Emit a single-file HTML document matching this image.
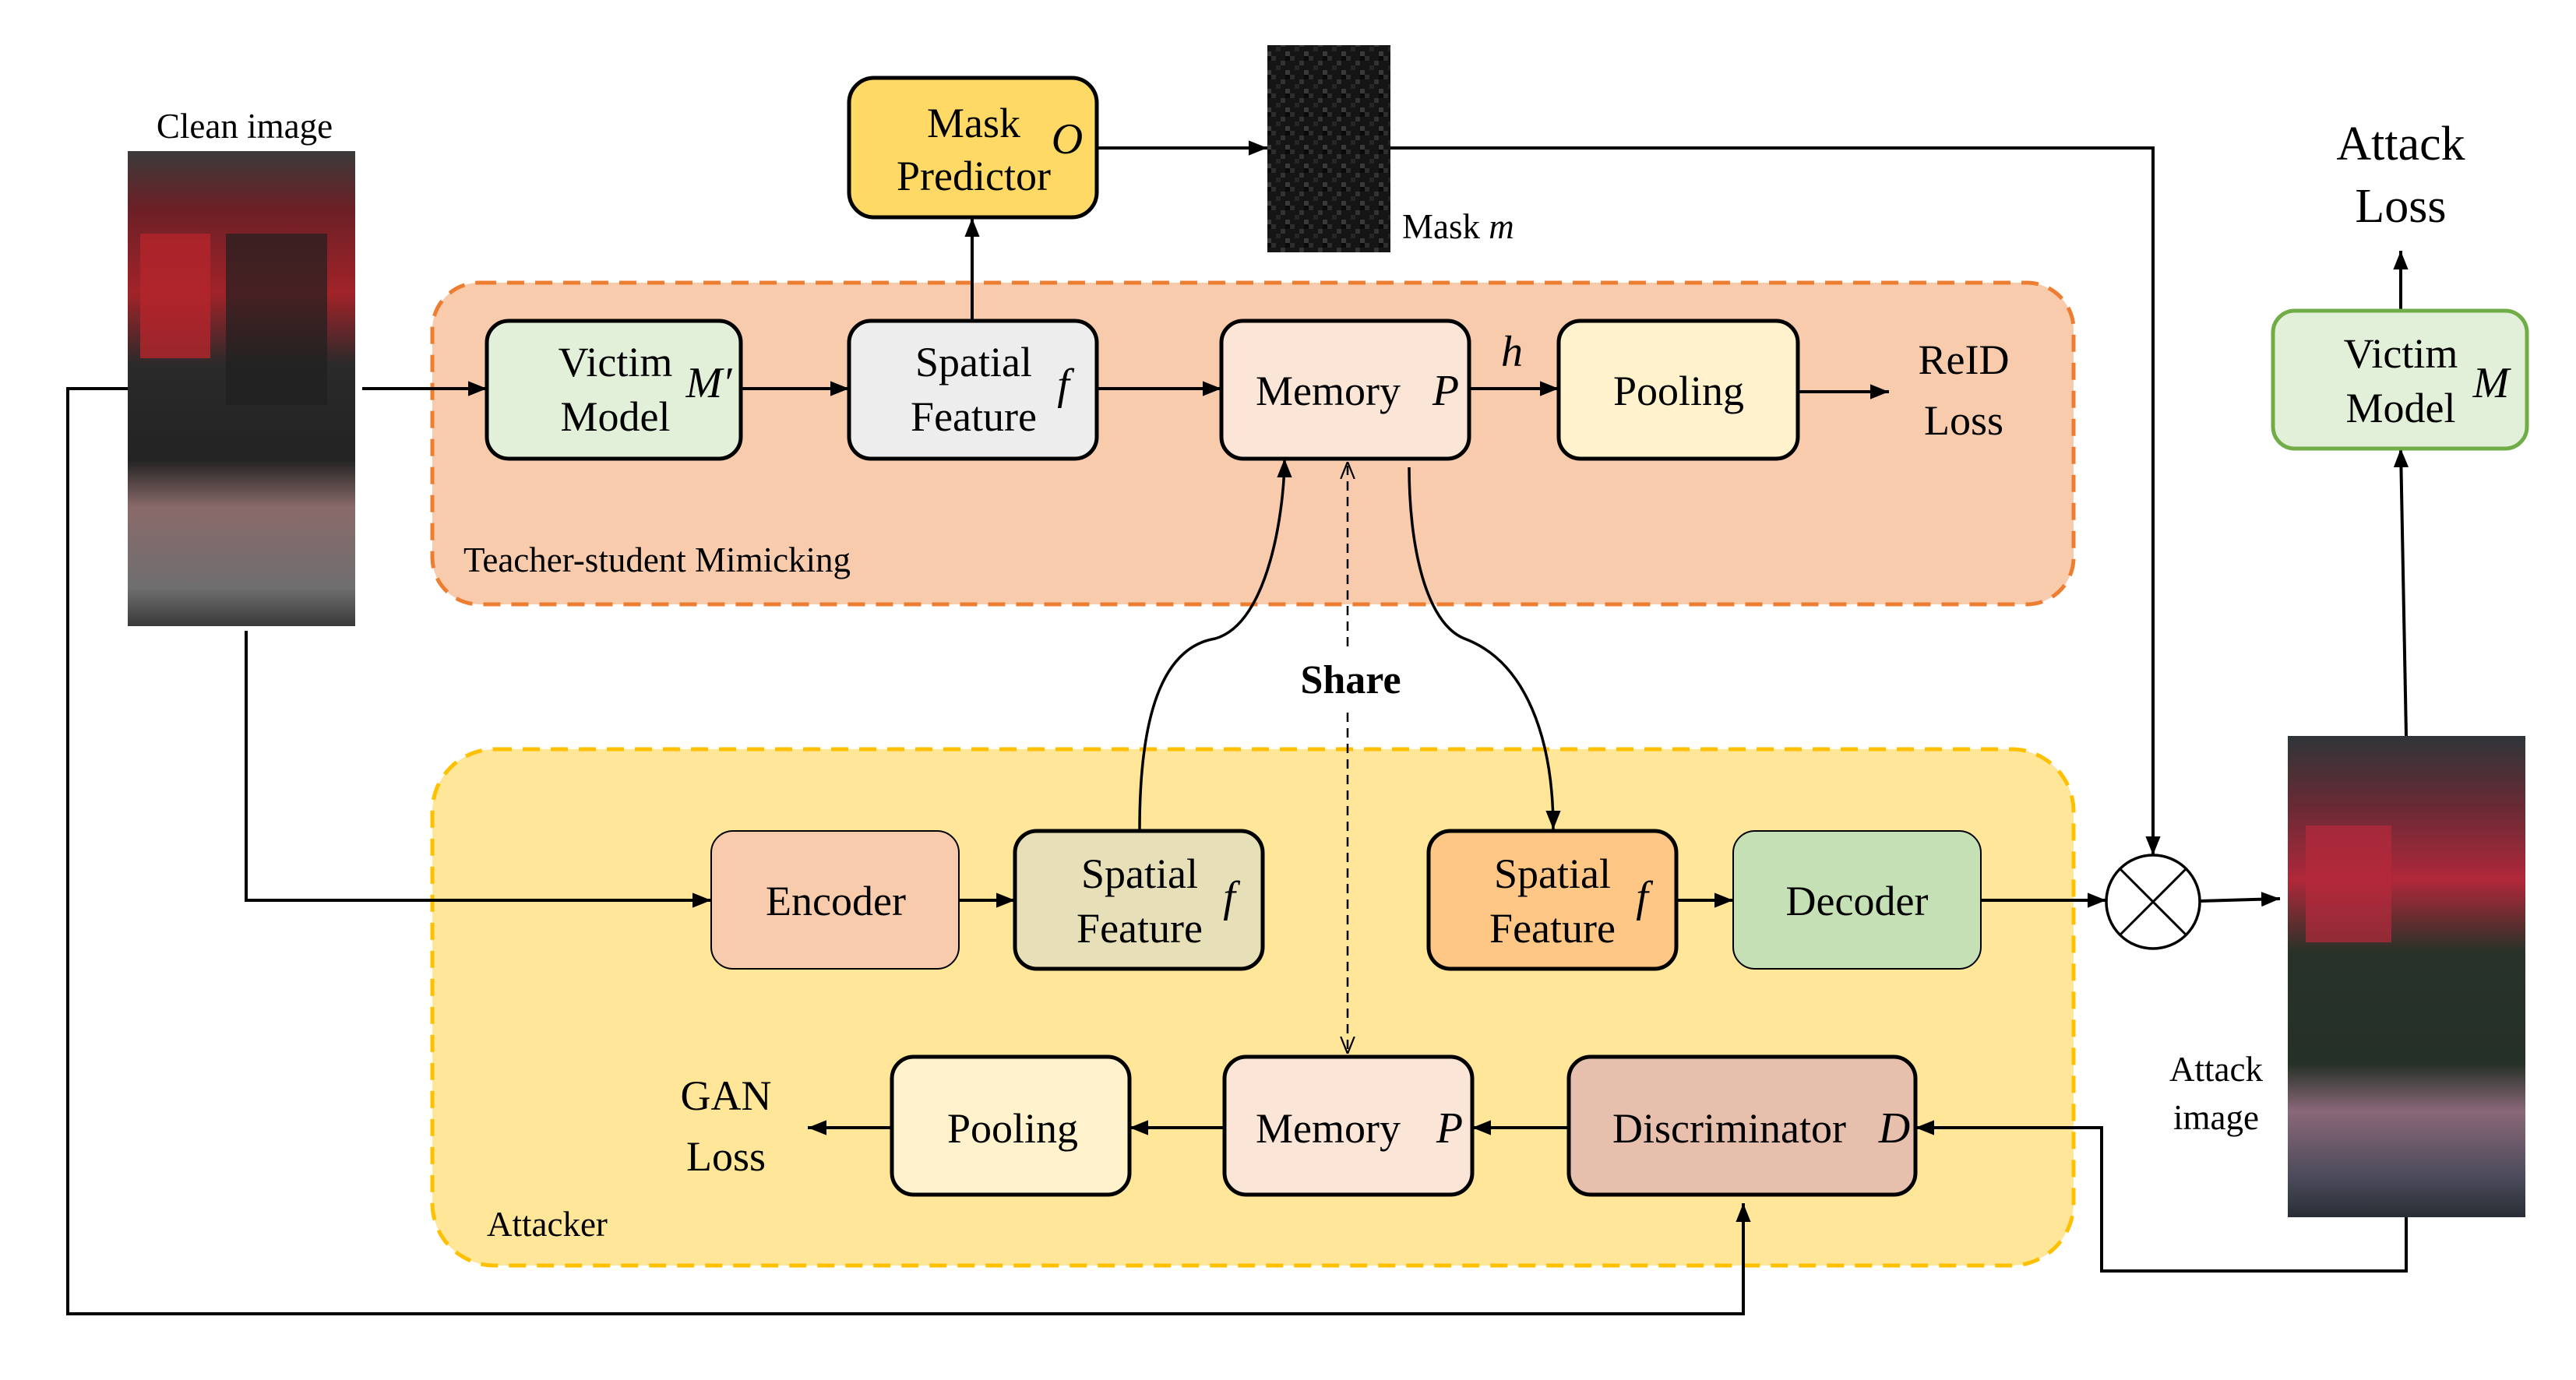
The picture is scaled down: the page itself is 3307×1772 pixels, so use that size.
<!DOCTYPE html>
<html><head><meta charset="utf-8"><style>
html,body{margin:0;padding:0;background:#fff}
svg{display:block;font-family:"Liberation Serif","DejaVu Serif",serif}
svg text{font-family:"Liberation Serif","DejaVu Serif",serif;fill:#000}
</style></head><body>
<svg width="3307" height="1772" viewBox="0 0 3307 1772" xmlns="http://www.w3.org/2000/svg" font-family="Liberation Serif, DejaVu Serif, serif">
<defs>
<marker id="A" viewBox="0 0 10 10" refX="10" refY="5" markerWidth="24" markerHeight="24" orient="auto" markerUnits="userSpaceOnUse"><path d="M0,1 L10,5 L0,9 z" fill="#000"/></marker>
<marker id="O" viewBox="0 0 10 10" refX="10" refY="5" markerWidth="22" markerHeight="22" orient="auto" markerUnits="userSpaceOnUse"><path d="M0,1 L10,5 L0,9" fill="none" stroke="#000" stroke-width="1"/></marker>
<pattern id="noise" width="24" height="24" patternUnits="userSpaceOnUse">
<rect width="24" height="24" fill="#151515"/><rect x="0" y="0" width="6" height="6" fill="#2e2e2e"/><rect x="12" y="6" width="6" height="6" fill="#333"/><rect x="6" y="12" width="6" height="6" fill="#262626"/><rect x="18" y="18" width="6" height="6" fill="#3a3a3a"/><rect x="18" y="0" width="6" height="6" fill="#0a0a0a"/></pattern>
<linearGradient id="person" x1="0" y1="0" x2="0" y2="1">
<stop offset="0" stop-color="#3b3b3b"/><stop offset="0.12" stop-color="#6b2026"/><stop offset="0.3" stop-color="#a12329"/><stop offset="0.45" stop-color="#2a2a2a"/><stop offset="0.65" stop-color="#232323"/><stop offset="0.75" stop-color="#8a6a6a"/><stop offset="0.92" stop-color="#6f6f70"/><stop offset="1" stop-color="#3a3a3a"/></linearGradient>
<linearGradient id="person2" x1="0" y1="0" x2="0" y2="1">
<stop offset="0" stop-color="#2f3538"/><stop offset="0.15" stop-color="#6a2a35"/><stop offset="0.3" stop-color="#b0283a"/><stop offset="0.45" stop-color="#283228"/><stop offset="0.68" stop-color="#253027"/><stop offset="0.78" stop-color="#8a6878"/><stop offset="0.92" stop-color="#4a4a5a"/><stop offset="1" stop-color="#2a2d35"/></linearGradient>
</defs>

<rect x="555" y="363" width="2107" height="413" rx="60" fill="#F8CBAD" stroke="#ED7D31" stroke-width="5" stroke-dasharray="22,14"/>
<rect x="555" y="962" width="2107" height="663" rx="80" fill="#FFE699" stroke="#FFC000" stroke-width="5" stroke-dasharray="22,14"/>

<rect x="164" y="194" width="292" height="610" fill="url(#person)"/>
<rect x="180" y="300" width="90" height="160" fill="#b4262c" opacity="0.8"/>
<rect x="290" y="300" width="130" height="220" fill="#1f1f1f" opacity="0.7"/>
<rect x="1627" y="58" width="158" height="266" fill="url(#noise)"/>
<rect x="2937" y="945" width="305" height="618" fill="url(#person2)"/>
<rect x="2960" y="1060" width="110" height="150" fill="#b52a3c" opacity="0.7"/>

<g stroke="#000" stroke-width="4" fill="none">
<polyline points="164,499 87,499 87,1687 2238,1687 2238,1545" marker-end="url(#A)"/>
<line x1="465" y1="499" x2="625" y2="499" marker-end="url(#A)"/>
<line x1="951" y1="499" x2="1090" y2="499" marker-end="url(#A)"/>
<line x1="1408" y1="499" x2="1568" y2="499" marker-end="url(#A)"/>
<line x1="1886" y1="499" x2="2001" y2="499" marker-end="url(#A)"/>
<line x1="2308" y1="503" x2="2425" y2="503" marker-end="url(#A)"/>
<line x1="1248" y1="412" x2="1248" y2="280" marker-end="url(#A)"/>
<line x1="1408" y1="190" x2="1627" y2="190" marker-end="url(#A)"/>
<polyline points="1785,190 2764,190 2764,1098" marker-end="url(#A)"/>
<polyline points="316,810 316,1156 913,1156" marker-end="url(#A)"/>
<line x1="1231" y1="1156" x2="1303" y2="1156" marker-end="url(#A)"/>
<line x1="2152" y1="1156" x2="2225" y2="1156" marker-end="url(#A)"/>
<line x1="2543" y1="1156" x2="2704" y2="1156" marker-end="url(#A)"/>
<line x1="2824" y1="1157" x2="2927" y2="1154" marker-end="url(#A)"/>
<line x1="3089" y1="945" x2="3082" y2="576" marker-end="url(#A)"/>
<line x1="3082" y1="399" x2="3082" y2="322" marker-end="url(#A)"/>
<polyline points="3089,1563 3089,1632 2698,1632 2698,1448 2459,1448" marker-end="url(#A)"/>
<line x1="2014" y1="1448" x2="1890" y2="1448" marker-end="url(#A)"/>
<line x1="1572" y1="1448" x2="1450" y2="1448" marker-end="url(#A)"/>
<line x1="1145" y1="1448" x2="1037" y2="1448" marker-end="url(#A)"/>
<path d="M1463,1065 C1463,900 1500,830 1560,820 C1630,800 1649,650 1649,589" marker-end="url(#A)" stroke-width="3.5"/>
<path d="M1809,600 C1809,700 1830,800 1880,820 C1960,850 1994,950 1994,1065" marker-end="url(#A)" stroke-width="3.5"/>
<line x1="1730" y1="830" x2="1730" y2="593" stroke-width="2.5" stroke-dasharray="12,8" marker-end="url(#O)"/>
<line x1="1730" y1="915" x2="1730" y2="1353" stroke-width="2.5" stroke-dasharray="12,8" marker-end="url(#O)"/>
</g>

<circle cx="2764" cy="1158" r="60" fill="#fff" stroke="#000" stroke-width="3.5"/>
<line x1="2722" y1="1116" x2="2806" y2="1200" stroke="#000" stroke-width="3"/>
<line x1="2806" y1="1116" x2="2722" y2="1200" stroke="#000" stroke-width="3"/>

<g stroke="#000" stroke-width="5">
<rect x="1090" y="100" width="318" height="179" rx="32" fill="#FFD966"/>
<rect x="625" y="412" width="326" height="177" rx="28" fill="#E2F0D9"/>
<rect x="1090" y="412" width="318" height="177" rx="28" fill="#EDEDED"/>
<rect x="1568" y="412" width="318" height="177" rx="28" fill="#FBE5D6"/>
<rect x="2001" y="412" width="307" height="177" rx="28" fill="#FFF2CC"/>
<rect x="913" y="1067" width="318" height="177" rx="28" fill="#F8CBAD" stroke-width="2"/>
<rect x="1303" y="1067" width="318" height="177" rx="28" fill="#E6DFB8"/>
<rect x="1834" y="1067" width="318" height="177" rx="28" fill="#FFC785"/>
<rect x="2225" y="1067" width="318" height="177" rx="28" fill="#C5E0B4" stroke-width="2"/>
<rect x="1145" y="1357" width="305" height="177" rx="28" fill="#FFF2CC"/>
<rect x="1572" y="1357" width="318" height="177" rx="28" fill="#FBE5D6"/>
<rect x="2014" y="1357" width="445" height="177" rx="28" fill="#E6BFAD"/>
<rect x="2918" y="399" width="326" height="177" rx="28" fill="#E2F0D9" stroke="#70AD47"/>
</g>

<g font-size="54" text-anchor="middle" font-family="Liberation Serif, DejaVu Serif, serif">
<text x="1250" y="176">Mask</text><text x="1250" y="244">Predictor</text>
<text x="790" y="483">Victim</text><text x="790" y="553">Model</text>
<text x="1250" y="483">Spatial</text><text x="1250" y="553">Feature</text>
<text x="1705" y="520">Memory</text>
<text x="2155" y="520">Pooling</text>
<text x="2521" y="480">ReID</text><text x="2521" y="558">Loss</text>
<text x="1073" y="1175">Encoder</text>
<text x="1463" y="1140">Spatial</text><text x="1463" y="1210">Feature</text>
<text x="1993" y="1140">Spatial</text><text x="1993" y="1210">Feature</text>
<text x="2384" y="1175">Decoder</text>
<text x="1300" y="1467">Pooling</text>
<text x="1705" y="1467">Memory</text>
<text x="2220" y="1467">Discriminator</text>
<text x="932" y="1425">GAN</text><text x="932" y="1503">Loss</text>
<text x="3082" y="472">Victim</text><text x="3082" y="542">Model</text>
<text x="3082" y="205" font-size="62">Attack</text><text x="3082" y="285" font-size="62">Loss</text>
</g>
<g font-size="56" font-style="italic" text-anchor="middle" font-family="Liberation Serif, DejaVu Serif, serif">
<text x="1370" y="197">O</text>
<text x="910" y="510">M′</text>
<text x="1365" y="512">f</text>
<text x="1856" y="520">P</text>
<text x="1941" y="470">h</text>
<text x="1578" y="1170">f</text>
<text x="2108" y="1170">f</text>
<text x="1861" y="1467">P</text>
<text x="2432" y="1467">D</text>
<text x="3198" y="510">M</text>
</g>
<g font-size="45" text-anchor="middle" font-family="Liberation Serif, DejaVu Serif, serif">
<text x="314" y="177">Clean image</text>
<text x="2845" y="1388">Attack</text><text x="2845" y="1450">image</text>
</g>
<text x="1800" y="306" font-size="45" font-family="Liberation Serif, DejaVu Serif, serif">Mask <tspan font-style="italic">m</tspan></text>
<text x="595" y="734" font-size="45" font-family="Liberation Serif, DejaVu Serif, serif">Teacher-student Mimicking</text>
<text x="625" y="1587" font-size="45" font-family="Liberation Serif, DejaVu Serif, serif">Attacker</text>
<text x="1734" y="890" font-size="52" font-weight="bold" text-anchor="middle" font-family="Liberation Serif, DejaVu Serif, serif">Share</text>
</svg>
</body></html>
